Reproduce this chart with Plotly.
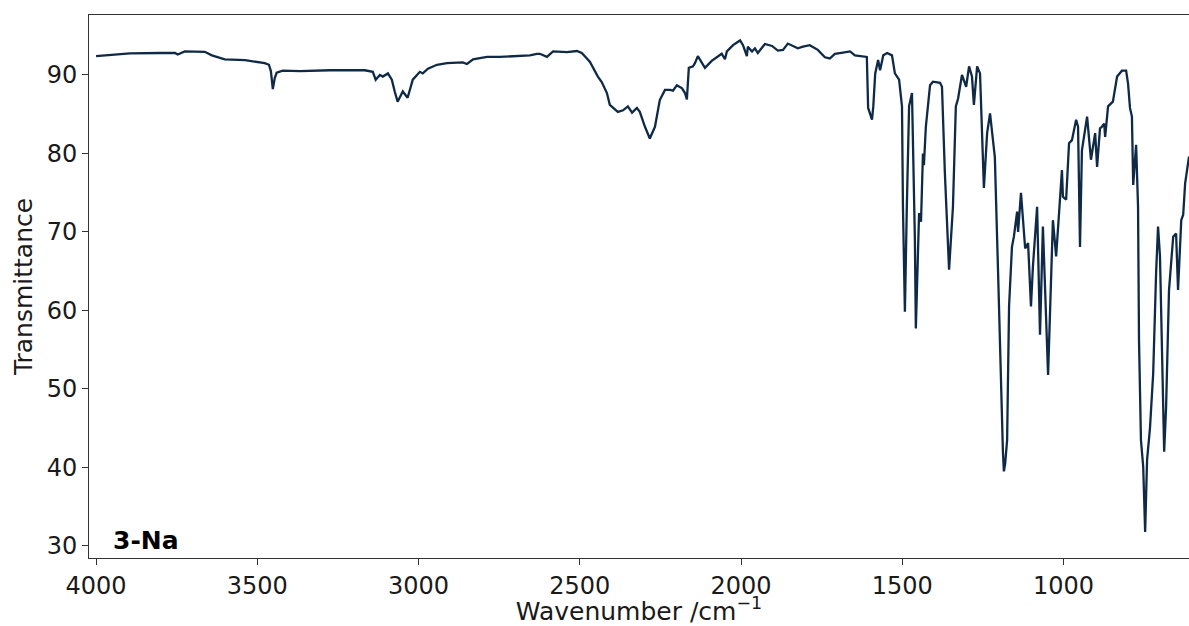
import plotly.graph_objects as go

wavenumber = [
    4000, 3950, 3895, 3800, 3755, 3747, 3725, 3663, 3641, 3601, 3538, 3477, 3464, 3458, 3452, 3446, 3440, 3421,
    3368, 3275, 3167, 3142, 3133, 3120, 3111, 3095, 3083, 3074, 3065, 3049, 3034, 3018, 2996, 2987, 2971, 2943,
    2912, 2863, 2850, 2831, 2788, 2748, 2686, 2655, 2633, 2624, 2602, 2583, 2540, 2509, 2494, 2469, 2444, 2432,
    2416, 2407, 2382, 2366, 2351, 2338, 2323, 2314, 2298, 2283, 2267, 2252, 2236, 2220, 2211, 2199, 2183, 2174,
    2168, 2162, 2149, 2143, 2134, 2112, 2091, 2072, 2060, 2050, 2044, 2025, 2003, 1994, 1982, 1979, 1966, 1957,
    1948, 1926, 1904, 1886, 1870, 1855, 1824, 1808, 1787, 1762, 1740, 1725, 1709, 1684, 1662, 1647, 1622, 1610,
    1606, 1594, 1590, 1584, 1575, 1569, 1559, 1547, 1532, 1523, 1510, 1501, 1498, 1492, 1486, 1479, 1470, 1467,
    1461, 1458, 1451, 1448, 1442, 1436, 1433, 1427, 1414, 1405, 1383, 1377, 1368, 1355, 1343, 1334, 1327, 1315,
    1302, 1293, 1284, 1278, 1268, 1259, 1247, 1237, 1228, 1213, 1203, 1194, 1188, 1185, 1181, 1175, 1169, 1160,
    1154, 1144, 1141, 1132, 1126, 1119, 1110, 1101, 1095, 1082, 1073, 1064, 1048, 1042, 1033, 1023, 1017, 1005,
    1002, 992, 983, 974, 961, 955, 949, 943, 927, 915, 902, 896, 887, 881, 874, 871, 862, 847, 834, 819, 806, 800,
    794, 788, 784, 775, 769, 766, 760, 753, 747, 741, 732, 722, 713, 707, 701, 695, 688, 682, 673, 660, 651, 645,
    635, 629, 623, 611,
]

transmittance = [
    92.4, 92.6, 92.75, 92.8, 92.8, 92.6, 93.0, 92.95, 92.5, 92.0, 91.9, 91.5, 91.3, 90.5, 88.2, 89.6, 90.3, 90.55,
    90.5, 90.6, 90.6, 90.4, 89.4, 90.0, 89.8, 90.2, 89.4, 87.9, 86.6, 87.9, 87.1, 89.4, 90.4, 90.2, 90.8, 91.3,
    91.5, 91.6, 91.4, 92.0, 92.3, 92.3, 92.4, 92.5, 92.7, 92.7, 92.3, 93.0, 92.9, 93.05, 92.8, 91.7, 89.8, 89.1,
    87.7, 86.2, 85.3, 85.5, 86.0, 85.2, 85.8, 85.3, 83.4, 81.9, 83.4, 86.8, 88.1, 88.1, 88.0, 88.7, 88.3, 87.7,
    86.9, 90.9, 91.1, 91.5, 92.4, 90.9, 91.8, 92.3, 92.7, 92.0, 93.0, 93.8, 94.4, 93.8, 92.4, 93.6, 93.0, 93.4,
    92.8, 93.95, 93.7, 93.1, 93.2, 94.0, 93.4, 93.6, 93.8, 93.2, 92.25, 92.1, 92.7, 92.85, 93.0, 92.5, 92.4, 92.3,
    85.8, 84.3, 86.0, 90.2, 91.9, 90.6, 92.5, 92.8, 92.5, 90.2, 89.4, 86.0, 73.2, 59.85, 73.2, 86.0, 87.7, 81.7,
    69.0, 57.7, 66.9, 72.4, 71.3, 80.0, 78.5, 83.4, 88.7, 89.15, 89.0, 88.5, 77.5, 65.2, 73.2, 86.0, 87.0, 90.0,
    88.5, 91.1, 89.8, 86.2, 91.1, 90.2, 75.6, 82.6, 85.1, 79.5, 64.8, 50.0, 42.0, 39.5, 40.5, 43.5, 60.5, 68.1,
    69.4, 72.6, 70.0, 75.0, 71.1, 67.9, 68.6, 60.5, 65.6, 73.2, 56.9, 70.7, 51.8, 60.5, 71.5, 66.9, 70.7, 77.9,
    74.5, 74.1, 81.3, 81.7, 84.3, 83.4, 68.1, 80.4, 84.7, 79.2, 82.6, 78.3, 83.2, 83.4, 83.8, 82.1, 86.0, 86.6,
    89.8, 90.55, 90.55, 88.9, 85.8, 84.7, 76.0, 81.1, 73.2, 56.2, 43.5, 40.1, 31.8, 41.0, 45.0, 52.0, 64.8, 70.7,
    66.9, 56.2, 42.0, 47.7, 62.6, 69.4, 69.8, 62.6, 71.5, 72.2, 76.2, 79.6,
]

x_ticks = [1000, 1500, 2000, 2500, 3000, 3500, 4000]
y_ticks = [30, 40, 50, 60, 70, 80, 90]
sample_label = "3-Na"
x_title = "Wavenumber /cm<sup>−1</sup>"
y_title = "Transmittance"

FONT = "DejaVu Sans"
TXT = "#1a1a1a"
TICK_SIZE = 24
TITLE_SIZE = 25

fig = go.Figure()
fig.add_trace(go.Scatter(
    x=wavenumber, y=transmittance, mode="lines",
    line=dict(color="#0f2a47", width=2.3), showlegend=False,
))

fig.add_annotation(
    x=3955, y=30.7, xref="x", yref="y", text="<b>" + sample_label + "</b>",
    showarrow=False, xanchor="left", yanchor="middle",
    font=dict(family=FONT, size=25, color="#000000"),
)

fig.update_layout(
    width=1189, height=626,
    margin=dict(l=89, r=0, t=15, b=68),
    paper_bgcolor="white", plot_bgcolor="white",
    font=dict(family=FONT, size=TICK_SIZE, color=TXT),
)
fig.update_xaxes(
    range=[4022, 611], tickvals=x_ticks, ticks="outside", ticklen=6, tickwidth=1,
    tickcolor="#333", showline=True, linecolor="#333", linewidth=1, mirror=True,
    showgrid=False, zeroline=False, tickfont=dict(family=FONT, size=TICK_SIZE, color=TXT),
    title=dict(text=x_title, font=dict(family=FONT, size=TITLE_SIZE, color=TXT), standoff=5),
)
fig.update_yaxes(
    range=[28.47, 97.64], tickvals=y_ticks, ticks="outside", ticklen=6, tickwidth=1,
    tickcolor="#333", showline=True, linecolor="#333", linewidth=1, mirror=False,
    showgrid=False, zeroline=False, tickfont=dict(family=FONT, size=TICK_SIZE, color=TXT),
    title=dict(text=y_title, font=dict(family=FONT, size=TITLE_SIZE, color=TXT), standoff=6),
)

fig.write_html("out.html")
